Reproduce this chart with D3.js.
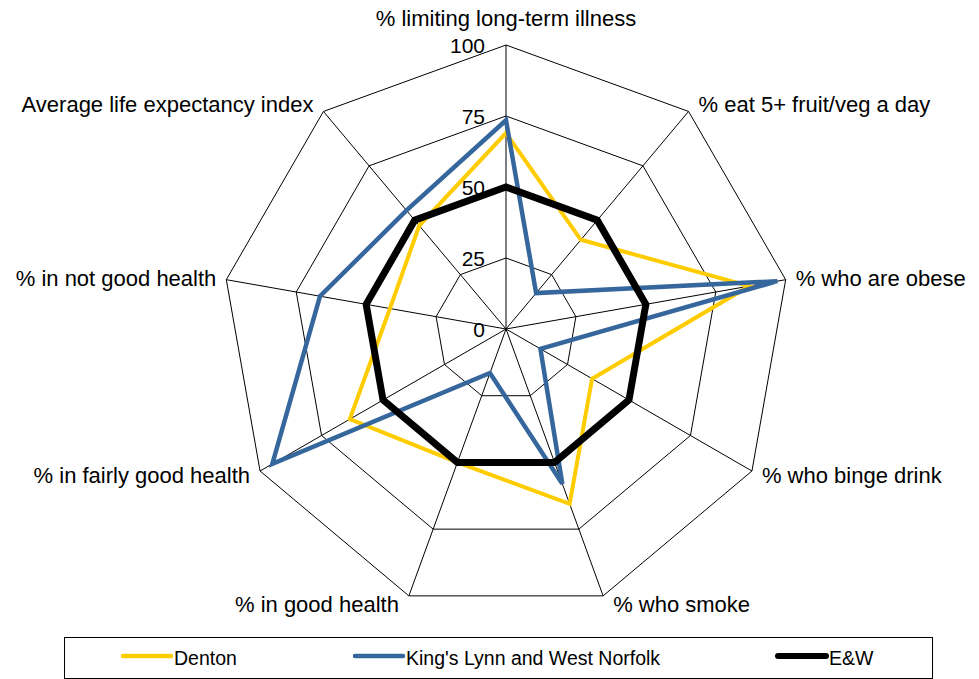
<!DOCTYPE html>
<html>
<head>
<meta charset="utf-8">
<script src="https://cdn.jsdelivr.net/npm/d3@7/dist/d3.min.js"></script>
<style>
  html, body { margin: 0; padding: 0; background: #fff; }
  svg { display: block; font-family: "Liberation Sans", Arial, sans-serif; }
</style>
</head>
<body>
<svg id="chart" width="979" height="679"></svg>
<script>
// ---- data ----
const axesLabels = [
  "% limiting long-term illness",
  "% eat 5+ fruit/veg a day",
  "% who are obese",
  "% who binge drink",
  "% who smoke",
  "% in good health",
  "% in fairly good health",
  "% in not good health",
  "Average life expectancy index"
];
const seriesNames = ["Denton", "King's Lynn and West Norfolk", "E&W"];
const dentonValues = [69, 41, 87, 35, 65.5, 50, 63.5, 41.5, 47.5];
const kingsLynnValues = [73.5, 16.5, 97, 14, 58, 16.5, 95, 66.5, 54.5];
const ewValues = [50, 50, 50, 50, 50, 50, 50, 50, 50];
const tickValues = [0, 25, 50, 75, 100];

// ---- layout ----
const svg = d3.select("#chart");
const cx = 506, cy = 329, R = 284;
const n = axesLabels.length;
const r = d3.scaleLinear().domain([0, 100]).range([0, R]);
const angle = d3.scaleLinear().domain([0, n]).range([0, 2 * Math.PI]);

const g = svg.append("g").attr("transform", `translate(${cx},${cy})`);

function pt(i, v) {
  const a = angle(i);
  return [Math.sin(a) * r(v), -Math.cos(a) * r(v)];
}

// grid rings (skip 0)
tickValues.filter(t => t > 0).forEach(t => {
  const pts = d3.range(n).map(i => pt(i, t));
  g.append("polygon")
    .attr("points", pts.map(p => p.join(",")).join(" "))
    .attr("fill", "none")
    .attr("stroke", "#000")
    .attr("stroke-width", 1);
});
// spokes
d3.range(n).forEach(i => {
  const p = pt(i, 100);
  g.append("line")
    .attr("x1", 0).attr("y1", 0)
    .attr("x2", p[0]).attr("y2", p[1])
    .attr("stroke", "#000")
    .attr("stroke-width", 1);
});

// series
const series = [
  { name: seriesNames[0], values: dentonValues, color: "#FFCC00", width: 4 },
  { name: seriesNames[1], values: kingsLynnValues, color: "#36679C", width: 4.5 },
  { name: seriesNames[2], values: ewValues, color: "#000000", width: 7 }
];
const radial = d3.lineRadial()
  .angle((d, i) => angle(i))
  .radius(d => r(d))
  .curve(d3.curveLinearClosed);

series.forEach(s => {
  g.append("path")
    .attr("d", radial(s.values))
    .attr("fill", "none")
    .attr("stroke", s.color)
    .attr("stroke-width", s.width)
    .attr("stroke-linejoin", "miter");
});

// tick labels
tickValues.forEach(t => {
  g.append("text")
    .attr("x", -21)
    .attr("y", -r(t))
    .attr("dy", "0.36em")
    .attr("text-anchor", "end")
    .attr("font-size", 21)
    .attr("fill", "#000")
    .text(t);
});

// axis labels
axesLabels.forEach((lab, i) => {
  const a = angle(i);
  const p = pt(i, 100);
  const s = Math.sin(a), c = Math.cos(a);
  let x = p[0], y = p[1], anchor;
  if (Math.abs(s) < 0.1) {
    anchor = "middle";
    y = p[1] - 27;
  } else {
    anchor = s > 0 ? "start" : "end";
    x = p[0] + (s > 0 ? 10 : -10);
    y = p[1] - c * 9;
  }
  g.append("text")
    .attr("x", x)
    .attr("y", y)
    .attr("dy", "0.36em")
    .attr("text-anchor", anchor)
    .attr("font-size", 22)
    .attr("fill", "#000")
    .text(lab);
});

// legend
const legend = svg.append("g");
legend.append("rect")
  .attr("x", 64.5).attr("y", 637.5)
  .attr("width", 868).attr("height", 41)
  .attr("fill", "#fff")
  .attr("stroke", "#000")
  .attr("stroke-width", 1);
const legendX = [123, 355, 778];
series.forEach((s, i) => {
  legend.append("line")
    .attr("x1", legendX[i]).attr("x2", legendX[i] + 48)
    .attr("y1", 656).attr("y2", 656)
    .attr("stroke", s.color)
    .attr("stroke-width", s.width === 7 ? 6 : 4.5)
    .attr("stroke-linecap", "round");
  legend.append("text")
    .attr("x", legendX[i] + 51)
    .attr("y", 665)
    .attr("font-size", 19.5)
    .attr("fill", "#000")
    .text(s.name);
});
</script>
</body>
</html>
